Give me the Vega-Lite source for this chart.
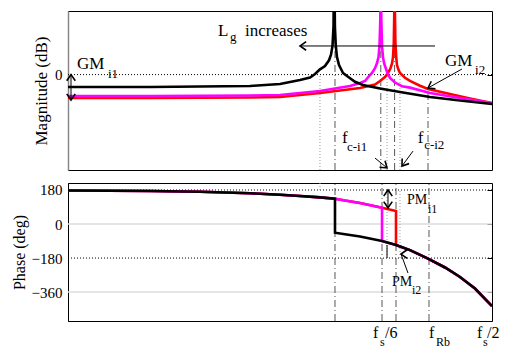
{
  "$schema": "https://vega.github.io/schema/vega-lite/v6.json",
  "background": "white",
  "padding": {"left": 10, "top": 10, "right": 5, "bottom": 5},
  "spacing": 13,
  "bounds": "flush",
  "config": {
    "view": {"stroke": "black", "strokeWidth": 1},
    "font": "Liberation Serif",
    "axis": {"labelFont": "Liberation Serif", "labelFontSize": 15, "labelColor": "black", "titleFont": "Liberation Serif", "titleColor": "black", "titleFontWeight": "normal"}
  },
  "datasets": {
    "mag": [
      {"s":"Lg1","i":1,"f":0,"v":-14.7},{"s":"Lg1","i":2,"f":19.34,"v":-14.7},{"s":"Lg1","i":3,"f":42.92,"v":-14.4},{"s":"Lg1","i":4,"f":50,"v":-14.1},{"s":"Lg1","i":5,"f":59.43,"v":-11.6},{"s":"Lg1","i":6,"f":68.87,"v":-8.4},{"s":"Lg1","i":7,"f":72.41,"v":-6.2},{"s":"Lg1","i":8,"f":73.59,"v":-4},{"s":"Lg1","i":9,"f":74.76,"v":-1.5},{"s":"Lg1","i":10,"f":75.47,"v":1},{"s":"Lg1","i":11,"f":76.06,"v":4},{"s":"Lg1","i":12,"f":76.42,"v":7},{"s":"Lg1","i":13,"f":76.65,"v":11},{"s":"Lg1","i":14,"f":76.84,"v":20},{"s":"Lg1","i":15,"f":76.96,"v":40},{"s":"Lg1","i":16,"f":77.03,"v":75},{"s":"Lg1","i":17,"f":77.1,"v":40},{"s":"Lg1","i":18,"f":77.22,"v":20},{"s":"Lg1","i":19,"f":77.41,"v":11},{"s":"Lg1","i":20,"f":77.59,"v":6},{"s":"Lg1","i":21,"f":77.95,"v":3},{"s":"Lg1","i":22,"f":78.3,"v":1},{"s":"Lg1","i":23,"f":79.48,"v":-2},{"s":"Lg1","i":24,"f":80.66,"v":-4},{"s":"Lg1","i":25,"f":83.02,"v":-7},{"s":"Lg1","i":26,"f":84.91,"v":-9.1},{"s":"Lg1","i":27,"f":90.09,"v":-12.2},{"s":"Lg1","i":28,"f":94.81,"v":-15},{"s":"Lg1","i":29,"f":100,"v":-17.9},
      {"s":"Lg2","i":31,"f":0,"v":-13.5},{"s":"Lg2","i":32,"f":19.34,"v":-13.5},{"s":"Lg2","i":33,"f":42.92,"v":-13.1},{"s":"Lg2","i":34,"f":50,"v":-12.8},{"s":"Lg2","i":35,"f":59.43,"v":-10.3},{"s":"Lg2","i":36,"f":66.51,"v":-7.2},{"s":"Lg2","i":37,"f":68.87,"v":-5.3},{"s":"Lg2","i":38,"f":70.05,"v":-4},{"s":"Lg2","i":39,"f":70.99,"v":-1},{"s":"Lg2","i":40,"f":71.7,"v":1},{"s":"Lg2","i":41,"f":72.41,"v":4},{"s":"Lg2","i":42,"f":72.88,"v":7.3},{"s":"Lg2","i":43,"f":73.23,"v":11},{"s":"Lg2","i":44,"f":73.47,"v":18},{"s":"Lg2","i":45,"f":73.66,"v":35},{"s":"Lg2","i":46,"f":73.77,"v":75},{"s":"Lg2","i":47,"f":73.89,"v":35},{"s":"Lg2","i":48,"f":74.06,"v":18},{"s":"Lg2","i":49,"f":74.29,"v":11},{"s":"Lg2","i":50,"f":74.53,"v":7.5},{"s":"Lg2","i":51,"f":74.76,"v":5.4},{"s":"Lg2","i":52,"f":75.35,"v":1},{"s":"Lg2","i":53,"f":75.94,"v":-2.1},{"s":"Lg2","i":54,"f":77.12,"v":-5},{"s":"Lg2","i":55,"f":78.77,"v":-7.3},{"s":"Lg2","i":56,"f":80.66,"v":-8.2},{"s":"Lg2","i":57,"f":85.38,"v":-11.6},{"s":"Lg2","i":58,"f":92.45,"v":-14.7},{"s":"Lg2","i":59,"f":100,"v":-17.9},
      {"s":"Lg3","i":61,"f":0,"v":-7.8},{"s":"Lg3","i":62,"f":19.34,"v":-7.8},{"s":"Lg3","i":63,"f":31.13,"v":-7.5},{"s":"Lg3","i":64,"f":42.92,"v":-7.2},{"s":"Lg3","i":65,"f":50,"v":-5.9},{"s":"Lg3","i":66,"f":54.72,"v":-3.4},{"s":"Lg3","i":67,"f":57.08,"v":-1.8},{"s":"Lg3","i":68,"f":58.26,"v":0.4},{"s":"Lg3","i":69,"f":59.43,"v":3.3},{"s":"Lg3","i":70,"f":60.61,"v":5.4},{"s":"Lg3","i":71,"f":61.56,"v":9},{"s":"Lg3","i":72,"f":62.03,"v":12.5},{"s":"Lg3","i":73,"f":62.38,"v":18},{"s":"Lg3","i":74,"f":62.62,"v":30},{"s":"Lg3","i":75,"f":62.78,"v":75},{"s":"Lg3","i":76,"f":62.95,"v":30},{"s":"Lg3","i":77,"f":63.16,"v":18},{"s":"Lg3","i":78,"f":63.44,"v":11},{"s":"Lg3","i":79,"f":63.92,"v":6},{"s":"Lg3","i":80,"f":64.39,"v":3.5},{"s":"Lg3","i":81,"f":64.86,"v":1},{"s":"Lg3","i":82,"f":65.8,"v":-0.9},{"s":"Lg3","i":83,"f":67.69,"v":-4.5},{"s":"Lg3","i":84,"f":69.57,"v":-6.5},{"s":"Lg3","i":85,"f":73.59,"v":-8.7},{"s":"Lg3","i":86,"f":78.3,"v":-11},{"s":"Lg3","i":87,"f":85.38,"v":-14.1},{"s":"Lg3","i":88,"f":92.45,"v":-16.3},{"s":"Lg3","i":89,"f":100,"v":-18.5}
    ],
    "phase": [
      {"s":"Lg1","i":1,"f":0,"v":177},{"s":"Lg1","i":2,"f":19.34,"v":175},{"s":"Lg1","i":3,"f":31.13,"v":171},{"s":"Lg1","i":4,"f":42.92,"v":163},{"s":"Lg1","i":5,"f":50,"v":155},{"s":"Lg1","i":6,"f":54.72,"v":148},{"s":"Lg1","i":7,"f":59.43,"v":141},{"s":"Lg1","i":8,"f":62.97,"v":134},{"s":"Lg1","i":9,"f":65.33,"v":124},{"s":"Lg1","i":10,"f":68.87,"v":111},{"s":"Lg1","i":11,"f":74.06,"v":86},{"s":"Lg1","i":12,"f":77.36,"v":69},{"s":"Lg1","i":13,"f":77.36,"v":-111},{"s":"Lg1","i":14,"f":80.66,"v":-138},{"s":"Lg1","i":15,"f":84.67,"v":-180},{"s":"Lg1","i":16,"f":88.92,"v":-230},{"s":"Lg1","i":17,"f":92.45,"v":-280},{"s":"Lg1","i":18,"f":95.99,"v":-341},{"s":"Lg1","i":19,"f":100,"v":-434},
      {"s":"Lg2","i":21,"f":0,"v":177},{"s":"Lg2","i":22,"f":19.34,"v":175},{"s":"Lg2","i":23,"f":31.13,"v":171},{"s":"Lg2","i":24,"f":42.92,"v":163},{"s":"Lg2","i":25,"f":50,"v":155},{"s":"Lg2","i":26,"f":54.72,"v":148},{"s":"Lg2","i":27,"f":59.43,"v":141},{"s":"Lg2","i":28,"f":62.97,"v":134},{"s":"Lg2","i":29,"f":65.33,"v":124},{"s":"Lg2","i":30,"f":68.87,"v":111},{"s":"Lg2","i":31,"f":74.06,"v":86},{"s":"Lg2","i":32,"f":74.06,"v":-90},{"s":"Lg2","i":33,"f":77.36,"v":-111},{"s":"Lg2","i":34,"f":80.66,"v":-138},{"s":"Lg2","i":35,"f":84.67,"v":-180},{"s":"Lg2","i":36,"f":88.92,"v":-230},{"s":"Lg2","i":37,"f":92.45,"v":-280},{"s":"Lg2","i":38,"f":95.99,"v":-341},{"s":"Lg2","i":39,"f":100,"v":-434},
      {"s":"Lg3","i":41,"f":0,"v":177},{"s":"Lg3","i":42,"f":19.34,"v":175},{"s":"Lg3","i":43,"f":31.13,"v":171},{"s":"Lg3","i":44,"f":42.92,"v":163},{"s":"Lg3","i":45,"f":50,"v":155},{"s":"Lg3","i":46,"f":54.72,"v":148},{"s":"Lg3","i":47,"f":59.43,"v":141},{"s":"Lg3","i":48,"f":62.97,"v":134},{"s":"Lg3","i":49,"f":62.97,"v":-46},{"s":"Lg3","i":50,"f":65.33,"v":-54},{"s":"Lg3","i":51,"f":68.87,"v":-66},{"s":"Lg3","i":52,"f":74.06,"v":-90},{"s":"Lg3","i":53,"f":77.36,"v":-111},{"s":"Lg3","i":54,"f":80.66,"v":-138},{"s":"Lg3","i":55,"f":84.67,"v":-180},{"s":"Lg3","i":56,"f":88.92,"v":-230},{"s":"Lg3","i":57,"f":92.45,"v":-280},{"s":"Lg3","i":58,"f":95.99,"v":-341},{"s":"Lg3","i":59,"f":100,"v":-434}
    ],
    "magDashDot": [{"f":62.97,"lo":-60,"hi":40},{"f":73.77,"lo":-60,"hi":40},{"f":77.03,"lo":-60,"hi":40},{"f":84.91,"lo":-60,"hi":-8.4}],
    "magDotted": [{"f":59.43,"lo":-60,"hi":0},{"f":75.24,"lo":-60,"hi":0},{"f":78.3,"lo":-60,"hi":0}],
    "magArrows": [{"f":86.56,"v":18,"f2":54.72,"v2":18},{"f":92.92,"v":3.5,"f2":84.91,"v2":-8.4},{"f":72.41,"v":-52.5,"f2":75.24,"v2":-58.7},{"f":81.37,"v":-48.1,"f2":78.77,"v2":-57.5},{"f":0.71,"v":0,"f2":0.71,"v2":-16}],
    "magHeads": [{"f":54.72,"v":18,"dir":"left"},{"f":84.91,"v":-8.4,"dir":"downleft"},{"f":75.24,"v":-58.7,"dir":"downright"},{"f":78.77,"v":-57.5,"dir":"downleft2"},{"f":0.71,"v":0,"dir":"up"},{"f":0.71,"v":-16,"dir":"down"}],
    "magText": [{"f":35.38,"v":24.3,"t":"L"},{"f":41.75,"v":24.3,"t":"increases"},{"f":2.12,"v":3.5,"t":"GM"},{"f":88.92,"v":5.4,"t":"GM"},{"f":64.62,"v":-43,"t":"f"},{"f":82.5,"v":-43,"t":"f"}],
    "magSub": [{"f":38.2,"v":21.1,"t":"g"},{"f":9.43,"v":-2.1,"t":"i1"},{"f":96.0,"v":0.4,"t":"i2"},{"f":65.8,"v":-48,"t":"c-i1"},{"f":84.0,"v":-46.8,"t":"c-i2"}],
    "phGrid": [{"v":0},{"v":-360}],
    "phDotH": [{"v":180},{"v":-180}],
    "phDashDot": [{"f":62.97,"lo":-513,"hi":217},{"f":74.06,"lo":-513,"hi":217},{"f":77.36,"lo":-513,"hi":217},{"f":85.14,"lo":-513,"hi":217}],
    "phDotted": [{"f":59.43,"lo":180,"hi":217},{"f":75.24,"lo":-180,"hi":180},{"f":78.3,"lo":-180,"hi":180}],
    "phArrows": [{"f":75.47,"v":180,"f2":75.47,"v2":86},{"f":80.19,"v":-259.4,"f2":78.54,"v2":-158.8},{"f":75.24,"v":-111,"f2":75.24,"v2":-180}],
    "phHeads": [{"f":75.47,"v":180,"dir":"up"},{"f":75.47,"v":86,"dir":"down"},{"f":78.54,"v":-158.8,"dir":"upleft"}],
    "phPM": [{"f":79.95,"v":105.9,"t":"PM"},{"f":76.42,"v":-328,"t":"PM"}],
    "phXText": [{"f":71.94,"v":-603.5,"t":"f"},{"f":74.76,"v":-603.5,"t":"/6"},{"f":85.14,"v":-603.5,"t":"f"},{"f":96.46,"v":-603.5,"t":"f"},{"f":98.82,"v":-603.5,"t":"/2"}],
    "phSub": [{"f":84.9,"v":58.2,"t":"i1"},{"f":81.13,"v":-370.6,"t":"i2"},{"f":73.59,"v":-646,"t":"s"},{"f":86.8,"v":-646,"t":"Rb"},{"f":97.88,"v":-646,"t":"s"}]
  },
  "vconcat": [
    {
      "width": 424,
      "height": 159,
      "resolve": {"axis": {"y": "independent"}},
      "layer": [
        {
          "data": {"values": [{"v": 0}]},
          "mark": {"type": "rule", "color": "black", "strokeDash": [1, 2], "strokeWidth": 1},
          "encoding": {
            "y": {"field": "v", "type": "quantitative", "scale": {"domain": [-60, 40], "nice": false, "zero": false},
              "axis": {"orient": "left", "values": [0], "ticks": false, "tickSize": 0, "labelPadding": 6, "grid": false, "domainColor": "#888", "domainWidth": 1.5, "title": "Magnitude (dB)", "titleFontSize": 17, "titleX": -22, "titleY": 79.5, "titleBaseline": "alphabetic"}}
          }
        },
        {
          "data": {"name": "magDashDot"},
          "mark": {"type": "rule", "color": "#444", "strokeDash": [7, 3, 1, 3], "strokeWidth": 0.9},
          "encoding": {
            "x": {"field": "f", "type": "quantitative", "scale": {"domain": [0, 100], "nice": false, "zero": false}, "axis": null},
            "y": {"field": "lo", "type": "quantitative", "scale": {"domain": [-60, 40], "nice": false, "zero": false},
              "axis": {"orient": "right", "values": [0], "labels": false, "ticks": true, "tickSize": -5, "tickColor": "black", "domain": false, "grid": false, "title": null}},
            "y2": {"field": "hi"}
          }
        },
        {
          "data": {"name": "magDotted"},
          "mark": {"type": "rule", "color": "#999", "strokeDash": [1, 2], "strokeWidth": 1},
          "encoding": {
            "x": {"field": "f", "type": "quantitative", "scale": {"domain": [0, 100], "nice": false, "zero": false}, "axis": null},
            "y": {"field": "lo", "type": "quantitative", "axis": null},
            "y2": {"field": "hi"}
          }
        },
        {
          "data": {"name": "mag"},
          "mark": {"type": "line", "clip": true, "strokeWidth": 2.6},
          "encoding": {
            "x": {"field": "f", "type": "quantitative", "axis": null},
            "y": {"field": "v", "type": "quantitative", "axis": null},
            "color": {"field": "s", "type": "nominal", "scale": {"domain": ["Lg1", "Lg2", "Lg3"], "range": ["#ff0000", "#ff00ff", "#000000"]}, "legend": null},
            "order": {"field": "i", "type": "quantitative"}
          }
        },
        {
          "data": {"name": "magArrows"},
          "mark": {"type": "rule", "color": "black", "strokeWidth": 1},
          "encoding": {
            "x": {"field": "f", "type": "quantitative", "axis": null},
            "y": {"field": "v", "type": "quantitative", "axis": null},
            "x2": {"field": "f2"},
            "y2": {"field": "v2"}
          }
        },
        {
          "data": {"name": "magHeads"},
          "mark": {"type": "point", "shape": "M-1,-0.7L0,0L-1,0.7", "filled": false, "stroke": "black", "strokeWidth": 1.6, "size": 150, "opacity": 1},
          "encoding": {
            "x": {"field": "f", "type": "quantitative", "axis": null},
            "y": {"field": "v", "type": "quantitative", "axis": null},
            "angle": {"field": "dir", "type": "nominal", "scale": {"type": "ordinal", "domain": ["left", "downleft", "downright", "downleft2", "up", "down"], "range": [180, 150.8, 39.8, 126.3, 270, 90]}, "legend": null}
          }
        },
        {
          "data": {"name": "magText"},
          "mark": {"type": "text", "align": "left", "baseline": "alphabetic", "font": "Liberation Serif", "fontSize": 17, "color": "black"},
          "encoding": {
            "x": {"field": "f", "type": "quantitative", "axis": null},
            "y": {"field": "v", "type": "quantitative", "axis": null},
            "text": {"field": "t"}
          }
        },
        {
          "data": {"name": "magSub"},
          "mark": {"type": "text", "align": "left", "baseline": "alphabetic", "font": "Liberation Serif", "fontSize": 13, "color": "black"},
          "encoding": {
            "x": {"field": "f", "type": "quantitative", "axis": null},
            "y": {"field": "v", "type": "quantitative", "axis": null},
            "text": {"field": "t"}
          }
        }
      ]
    },
    {
      "width": 424,
      "height": 138,
      "resolve": {"axis": {"y": "independent"}},
      "layer": [
        {
          "data": {"name": "phGrid"},
          "mark": {"type": "rule", "color": "#dddddd", "strokeWidth": 1.5},
          "encoding": {
            "y": {"field": "v", "type": "quantitative", "scale": {"domain": [-513, 217], "nice": false, "zero": false},
              "axis": {"orient": "left", "values": [180, 0, -180, -360], "ticks": false, "tickSize": 0, "labelPadding": 6, "grid": false, "domainColor": "black", "title": "Phase (deg)", "titleFontSize": 16, "titleX": -44, "titleY": 69, "titleBaseline": "alphabetic"}}
          }
        },
        {
          "data": {"name": "phDotH"},
          "mark": {"type": "rule", "color": "black", "strokeDash": [1, 2], "strokeWidth": 1},
          "encoding": {
            "y": {"field": "v", "type": "quantitative", "axis": null}
          }
        },
        {
          "data": {"name": "phDashDot"},
          "mark": {"type": "rule", "color": "#444", "strokeDash": [7, 3, 1, 3], "strokeWidth": 0.9},
          "encoding": {
            "x": {"field": "f", "type": "quantitative", "scale": {"domain": [0, 100], "nice": false, "zero": false},
              "axis": {"title": "Frequency \u00a0(rad/s)", "labels": false, "ticks": false, "domain": false, "grid": false, "titleFont": "Liberation Sans", "titleFontSize": 16, "titleFontWeight": "normal", "titleX": 209, "titleY": 20, "titleBaseline": "alphabetic", "titleAlign": "center"}},
            "y": {"field": "lo", "type": "quantitative", "scale": {"domain": [-513, 217], "nice": false, "zero": false},
              "axis": {"orient": "right", "values": [180, 0, -180, -360], "labels": false, "ticks": true, "tickSize": -5, "tickColor": "black", "domain": false, "grid": false, "title": null}},
            "y2": {"field": "hi"}
          }
        },
        {
          "data": {"name": "phDotted"},
          "mark": {"type": "rule", "color": "#999", "strokeDash": [1, 2], "strokeWidth": 1},
          "encoding": {
            "x": {"field": "f", "type": "quantitative", "axis": null},
            "y": {"field": "lo", "type": "quantitative", "axis": null},
            "y2": {"field": "hi"}
          }
        },
        {
          "data": {"name": "phase"},
          "mark": {"type": "line", "clip": true, "strokeWidth": 2.6},
          "encoding": {
            "x": {"field": "f", "type": "quantitative", "axis": null},
            "y": {"field": "v", "type": "quantitative", "axis": null},
            "color": {"field": "s", "type": "nominal", "scale": {"domain": ["Lg1", "Lg2", "Lg3"], "range": ["#ff0000", "#ff00ff", "#000000"]}, "legend": null},
            "order": {"field": "i", "type": "quantitative"}
          }
        },
        {
          "data": {"name": "phArrows"},
          "mark": {"type": "rule", "color": "black", "strokeWidth": 1},
          "encoding": {
            "x": {"field": "f", "type": "quantitative", "axis": null},
            "y": {"field": "v", "type": "quantitative", "axis": null},
            "x2": {"field": "f2"},
            "y2": {"field": "v2"}
          }
        },
        {
          "data": {"name": "phHeads"},
          "mark": {"type": "point", "shape": "M-1,-0.7L0,0L-1,0.7", "filled": false, "stroke": "black", "strokeWidth": 1.6, "size": 150, "opacity": 1},
          "encoding": {
            "x": {"field": "f", "type": "quantitative", "axis": null},
            "y": {"field": "v", "type": "quantitative", "axis": null},
            "angle": {"field": "dir", "type": "nominal", "scale": {"type": "ordinal", "domain": ["up", "down", "upleft"], "range": [270, 90, 249.8]}, "legend": null}
          }
        },
        {
          "data": {"name": "phPM"},
          "mark": {"type": "text", "align": "left", "baseline": "alphabetic", "font": "Liberation Serif", "fontSize": 14, "color": "black"},
          "encoding": {
            "x": {"field": "f", "type": "quantitative", "axis": null},
            "y": {"field": "v", "type": "quantitative", "axis": null},
            "text": {"field": "t"}
          }
        },
        {
          "data": {"name": "phXText"},
          "mark": {"type": "text", "align": "left", "baseline": "alphabetic", "font": "Liberation Serif", "fontSize": 16, "color": "black"},
          "encoding": {
            "x": {"field": "f", "type": "quantitative", "axis": null},
            "y": {"field": "v", "type": "quantitative", "axis": null},
            "text": {"field": "t"}
          }
        },
        {
          "data": {"name": "phSub"},
          "mark": {"type": "text", "align": "left", "baseline": "alphabetic", "font": "Liberation Serif", "fontSize": 12, "color": "black"},
          "encoding": {
            "x": {"field": "f", "type": "quantitative", "axis": null},
            "y": {"field": "v", "type": "quantitative", "axis": null},
            "text": {"field": "t"}
          }
        }
      ]
    }
  ]
}
